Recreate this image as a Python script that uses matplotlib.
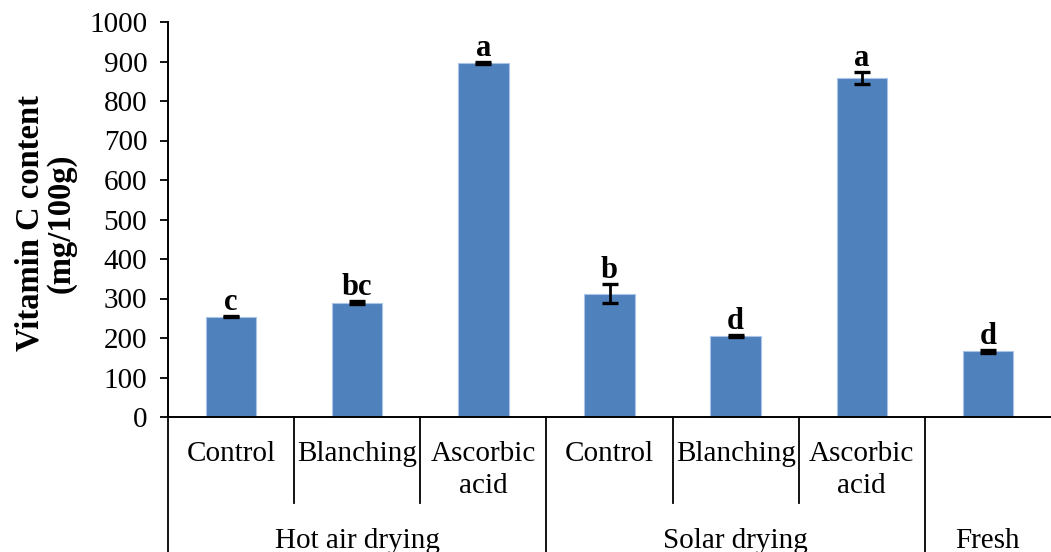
import matplotlib.pyplot as plt
import numpy as np

treatments = ['Control', 'Blanching', 'Ascorbic\nacid',
              'Control', 'Blanching', 'Ascorbic\nacid', '']
groups = ['Hot air drying', 'Solar drying', 'Fresh']
group_sizes = [3, 3, 1]
vit_c = [254, 289, 896, 312, 205, 858, 166]
err = [2, 4, 2, 24, 3, 16, 3]
letters = ['c', 'bc', 'a', 'b', 'd', 'a', 'd']

plt.rcParams['font.family'] = ['Liberation Serif', 'DejaVu Serif']

fig = plt.figure(figsize=(10.51, 5.52), dpi=100)
ax = fig.add_axes([168/1051, 1 - 417/552, (1051 - 168)/1051, 395/552])

x = np.arange(len(vit_c))
ax.bar(x, vit_c, width=0.4, color='#4f81bd', edgecolor='#a9c4e6', linewidth=0.8)
ax.errorbar(x, vit_c, yerr=err, fmt='none', ecolor='black', elinewidth=2,
            capsize=6, capthick=2.4)
for xi, v, e, lab in zip(x, vit_c, err, letters):
    ax.text(xi, v + e - 3, lab, ha='center', va='bottom', fontsize=22,
            fontweight='bold')

ax.set_xlim(-0.5, len(vit_c) - 0.5)
ax.set_ylim(0, 1000)
ax.set_yticks(np.arange(0, 1001, 100))
ax.tick_params(axis='y', labelsize=21, direction='out', length=6, width=1.3,
               pad=9)
ax.set_xticks([])
for s in ['top', 'right']:
    ax.spines[s].set_visible(False)
ax.spines['left'].set_linewidth(1.4)
ax.spines['bottom'].set_linewidth(1.4)
ax.set_ylabel('Vitamin C content\n(mg/100g)', fontsize=23.5, fontweight='bold',
              linespacing=1.0)
ax.yaxis.set_label_coords(-0.103, 0.49)

# two-level category axis drawn below the plot
tr = ax.get_xaxis_transform()
for xi, name in enumerate(treatments):
    ax.text(xi, -0.06, name, transform=tr, ha='center', va='top',
            fontsize=21, linespacing=1.32)

inner_edges = []
outer_edges = [-0.5]
start = 0
for n in group_sizes:
    for k in range(1, n):
        inner_edges.append(start + k - 0.5)
    start += n
    outer_edges.append(start - 0.5)

for e in inner_edges:
    ax.plot([e, e], [0, -0.218], transform=tr, color='black', lw=1.3,
            clip_on=False)
for e in outer_edges[:-1]:
    ax.plot([e, e], [0, -0.4], transform=tr, color='black', lw=1.3,
            clip_on=False)

start = 0
for name, n in zip(groups, group_sizes):
    ax.text(start + (n - 1) / 2, -0.28, name, transform=tr, ha='center',
            va='top', fontsize=21)
    start += n

fig.savefig('out.png', dpi=100)
